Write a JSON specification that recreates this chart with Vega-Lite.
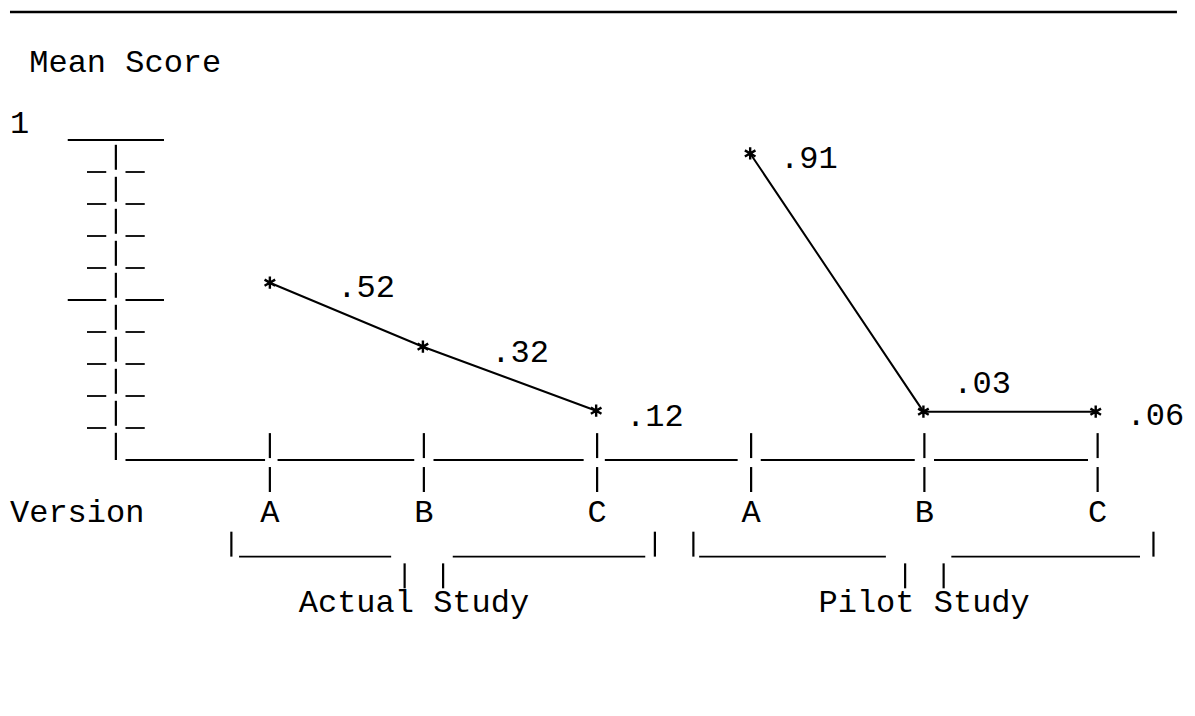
{
  "$schema": "https://vega.github.io/schema/vega-lite/v6.json",
  "width": 1195,
  "height": 716,
  "autosize": {"type": "fit", "contains": "padding"},
  "padding": 0,
  "background": "white",
  "config": {"view": {"stroke": null}, "font": "Liberation Mono"},
  "datasets": {
    "points": [
      {"study": "Actual Study", "version": "A", "c": 13.5, "v": 0.554, "score": ".52"},
      {"study": "Actual Study", "version": "B", "c": 21.45, "v": 0.354, "score": ".32"},
      {"study": "Actual Study", "version": "C", "c": 30.45, "v": 0.154, "score": ".12"},
      {"study": "Pilot Study", "version": "A", "c": 38.45, "v": 0.958, "score": ".91"},
      {"study": "Pilot Study", "version": "B", "c": 47.45, "v": 0.151, "score": ".03"},
      {"study": "Pilot Study", "version": "C", "c": 56.4, "v": 0.151, "score": ".06"}
    ],
    "topline": [
      {"c": 0, "c2": 60.62, "v": 1.4}
    ],
    "hsegs": [
      {"c": 3, "c2": 8, "v": 1.0},
      {"c": 4, "c2": 5, "v": 0.9}, {"c": 6, "c2": 7, "v": 0.9},
      {"c": 4, "c2": 5, "v": 0.8}, {"c": 6, "c2": 7, "v": 0.8},
      {"c": 4, "c2": 5, "v": 0.7}, {"c": 6, "c2": 7, "v": 0.7},
      {"c": 4, "c2": 5, "v": 0.6}, {"c": 6, "c2": 7, "v": 0.6},
      {"c": 3, "c2": 5, "v": 0.5}, {"c": 6, "c2": 8, "v": 0.5},
      {"c": 4, "c2": 5, "v": 0.4}, {"c": 6, "c2": 7, "v": 0.4},
      {"c": 4, "c2": 5, "v": 0.3}, {"c": 6, "c2": 7, "v": 0.3},
      {"c": 4, "c2": 5, "v": 0.2}, {"c": 6, "c2": 7, "v": 0.2},
      {"c": 4, "c2": 5, "v": 0.1}, {"c": 6, "c2": 7, "v": 0.1},
      {"c": 6, "c2": 13.25, "v": 0},
      {"c": 13.9, "c2": 21, "v": 0},
      {"c": 22, "c2": 29.8, "v": 0},
      {"c": 30.9, "c2": 37.8, "v": 0},
      {"c": 39, "c2": 47, "v": 0},
      {"c": 48, "c2": 56, "v": 0},
      {"c": 11.9, "c2": 19.8, "v": -0.302},
      {"c": 23, "c2": 33, "v": -0.302},
      {"c": 35.8, "c2": 45.5, "v": -0.302},
      {"c": 48.9, "c2": 58.7, "v": -0.302}
    ],
    "vsegs": [
      {"c": 5.5, "v": 0.0, "v2": 0.085},
      {"c": 5.5, "v": 0.107, "v2": 0.185},
      {"c": 5.5, "v": 0.207, "v2": 0.285},
      {"c": 5.5, "v": 0.307, "v2": 0.385},
      {"c": 5.5, "v": 0.407, "v2": 0.485},
      {"c": 5.5, "v": 0.507, "v2": 0.585},
      {"c": 5.5, "v": 0.607, "v2": 0.685},
      {"c": 5.5, "v": 0.707, "v2": 0.785},
      {"c": 5.5, "v": 0.807, "v2": 0.885},
      {"c": 5.5, "v": 0.907, "v2": 0.985},
      {"c": 13.5, "v": 0.006, "v2": 0.084}, {"c": 13.5, "v": -0.1, "v2": -0.022},
      {"c": 21.5, "v": 0.006, "v2": 0.084}, {"c": 21.5, "v": -0.1, "v2": -0.022},
      {"c": 30.5, "v": 0.006, "v2": 0.084}, {"c": 30.5, "v": -0.1, "v2": -0.022},
      {"c": 38.5, "v": 0.006, "v2": 0.084}, {"c": 38.5, "v": -0.1, "v2": -0.022},
      {"c": 47.5, "v": 0.006, "v2": 0.084}, {"c": 47.5, "v": -0.1, "v2": -0.022},
      {"c": 56.5, "v": 0.006, "v2": 0.084}, {"c": 56.5, "v": -0.1, "v2": -0.022},
      {"c": 11.5, "v": -0.224, "v2": -0.302},
      {"c": 33.5, "v": -0.224, "v2": -0.302},
      {"c": 35.5, "v": -0.224, "v2": -0.302},
      {"c": 59.4, "v": -0.224, "v2": -0.302},
      {"c": 20.5, "v": -0.323, "v2": -0.401},
      {"c": 22.5, "v": -0.323, "v2": -0.401},
      {"c": 46.5, "v": -0.323, "v2": -0.401},
      {"c": 48.5, "v": -0.323, "v2": -0.401}
    ],
    "texts": [
      {"c": 1, "v": 1.2134, "text": "Mean Score"},
      {"c": 0, "v": 1.021, "text": "1"},
      {"c": 0, "v": -0.193, "text": "Version"},
      {"c": 13, "v": -0.193, "text": "A"},
      {"c": 21, "v": -0.193, "text": "B"},
      {"c": 30, "v": -0.193, "text": "C"},
      {"c": 38, "v": -0.193, "text": "A"},
      {"c": 47, "v": -0.193, "text": "B"},
      {"c": 56, "v": -0.193, "text": "C"},
      {"c": 15, "v": -0.474, "text": "Actual Study"},
      {"c": 42, "v": -0.474, "text": "Pilot Study"},
      {"c": 17, "v": 0.51, "text": ".52"},
      {"c": 25, "v": 0.307, "text": ".32"},
      {"c": 32, "v": 0.107, "text": ".12"},
      {"c": 40, "v": 0.912, "text": ".91"},
      {"c": 49, "v": 0.208, "text": ".03"},
      {"c": 58, "v": 0.109, "text": ".06"}
    ]
  },
  "layer": [
    {
      "data": {"name": "topline"},
      "mark": {"type": "rule", "color": "black", "strokeWidth": 2.5},
      "encoding": {
        "x": {"field": "c", "type": "quantitative", "scale": {"domain": [-0.519, 61.558], "nice": false, "zero": false}, "axis": null},
        "x2": {"field": "c2"},
        "y": {"field": "v", "type": "quantitative", "scale": {"domain": [-0.8, 1.4375], "nice": false, "zero": false}, "axis": null}
      }
    },
    {
      "data": {"name": "hsegs"},
      "mark": {"type": "rule", "color": "black", "strokeWidth": 1.8},
      "encoding": {
        "x": {"field": "c", "type": "quantitative", "scale": {"domain": [-0.519, 61.558], "nice": false, "zero": false}, "axis": null},
        "x2": {"field": "c2"},
        "y": {"field": "v", "type": "quantitative", "scale": {"domain": [-0.8, 1.4375], "nice": false, "zero": false}, "axis": null}
      }
    },
    {
      "data": {"name": "vsegs"},
      "mark": {"type": "rule", "color": "black", "strokeWidth": 2.2},
      "encoding": {
        "x": {"field": "c", "type": "quantitative", "scale": {"domain": [-0.519, 61.558], "nice": false, "zero": false}, "axis": null},
        "y": {"field": "v", "type": "quantitative", "scale": {"domain": [-0.8, 1.4375], "nice": false, "zero": false}, "axis": null},
        "y2": {"field": "v2"}
      }
    },
    {
      "data": {"name": "points"},
      "mark": {"type": "line", "color": "black", "strokeWidth": 2},
      "encoding": {
        "x": {"field": "c", "type": "quantitative", "scale": {"domain": [-0.519, 61.558], "nice": false, "zero": false}, "axis": null},
        "y": {"field": "v", "type": "quantitative", "scale": {"domain": [-0.8, 1.4375], "nice": false, "zero": false}, "axis": null},
        "detail": {"field": "study", "type": "nominal"},
        "order": {"field": "c", "type": "quantitative"}
      }
    },
    {
      "data": {"name": "points"},
      "mark": {"type": "point", "shape": "M0,-1L0,1M-0.866,-0.5L0.866,0.5M-0.866,0.5L0.866,-0.5", "filled": false, "stroke": "black", "strokeWidth": 2.4, "size": 150, "opacity": 1},
      "encoding": {
        "x": {"field": "c", "type": "quantitative", "scale": {"domain": [-0.519, 61.558], "nice": false, "zero": false}, "axis": null},
        "y": {"field": "v", "type": "quantitative", "scale": {"domain": [-0.8, 1.4375], "nice": false, "zero": false}, "axis": null}
      }
    },
    {
      "data": {"name": "texts"},
      "mark": {"type": "text", "align": "left", "baseline": "alphabetic", "font": "Liberation Mono", "fontSize": 32, "color": "black"},
      "encoding": {
        "x": {"field": "c", "type": "quantitative", "scale": {"domain": [-0.519, 61.558], "nice": false, "zero": false}, "axis": null},
        "y": {"field": "v", "type": "quantitative", "scale": {"domain": [-0.8, 1.4375], "nice": false, "zero": false}, "axis": null},
        "text": {"field": "text", "type": "nominal"}
      }
    }
  ]
}
